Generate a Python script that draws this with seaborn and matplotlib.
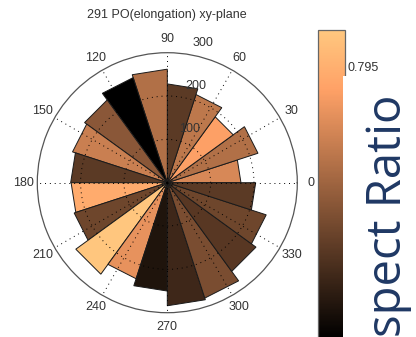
import numpy as np
import matplotlib
matplotlib.use("Agg")
import matplotlib.pyplot as plt
from matplotlib.patches import Rectangle
from matplotlib.colors import Normalize
from matplotlib.cm import ScalarMappable
import seaborn as sns

# Rose histogram: 20 orientation bins of 18 degrees
bin_edges_deg = list(range(0, 361, 18))
counts = [170, 220, 188, 214, 228, 262, 255, 236, 230, 223,
          222, 226, 261, 233, 250, 284, 280, 253, 240, 204]
# mean aspect ratio of the particles in each bin
aspect_ratio = [0.715, 0.667, 0.763, 0.683, 0.560, 0.667, 0.445, 0.620, 0.699, 0.560,
                0.786, 0.584, 0.838, 0.735, 0.485, 0.524, 0.600, 0.556, 0.584, 0.560]
color_limits = (0.445, 0.842)

angle_ticks = list(range(0, 360, 30))
radial_ticks = [100, 200, 300]
cbar_ticks = [0.495, 0.545, 0.595, 0.645, 0.695, 0.745, 0.795]
cbar_tick_labels = ["", "", "", "", "", "", "0.795"]

title = "291 PO(elongation) xy-plane"
side_label = "spect Ratio"

sns.set_style("white")
plt.rcParams["font.family"] = ["Liberation Sans", "DejaVu Sans"]
text_color = "#333333"

cmap = sns.color_palette("copper", as_cmap=True)
norm = Normalize(*color_limits)

W, H = 416, 337
fig = plt.figure(figsize=(W / 100, H / 100), dpi=100)

# polar axes: centre (167.3, 182.7) px, radius 130 px
cx, cy, R = 167.3, 182.7, 130
ax = fig.add_axes([(cx - R) / W, (H - cy - R) / H, 2 * R / W, 2 * R / H],
                  projection="polar")
ax.set_theta_zero_location("E")
ax.set_theta_direction(1)
ax.set_ylim(0, 300)

for i, (r, v) in enumerate(zip(counts, aspect_ratio)):
    t1 = np.deg2rad(bin_edges_deg[i])
    t2 = np.deg2rad(bin_edges_deg[i + 1])
    ax.fill([0, t1, t2, 0], [0, r, r, 0], facecolor=cmap(norm(v)),
            edgecolor="#1a1a1a", linewidth=0.7, zorder=1)

ax.set_axisbelow(False)
ax.set_yticks(radial_ticks[:-1])
ax.set_yticklabels([])
ax.set_xticks(np.deg2rad(angle_ticks))
ax.set_xticklabels([str(a) for a in angle_ticks])
ax.grid(True, color="black", linestyle=(0, (1, 4)), linewidth=0.7)
ax.tick_params(axis="x", pad=3, length=0, labelsize=9, labelcolor=text_color)
ax.spines["polar"].set_edgecolor("#555555")
ax.spines["polar"].set_linewidth(0.9)

for r in radial_ticks:
    ax.annotate(str(r), xy=(np.deg2rad(81.4), r), xytext=(11.5, 7.7),
                textcoords="offset points", ha="center", va="center",
                fontsize=9, color=text_color, annotation_clip=False, zorder=3)

ax.set_title(title, y=1 + (cy - R - 15) / (2 * R), va="center", pad=0,
             fontsize=9, color=text_color)

# colour bar
cax = fig.add_axes([318.3 / W, -1 / H, 26.7 / W, 308 / H])
cb = fig.colorbar(ScalarMappable(norm=norm, cmap=cmap), cax=cax, ticks=cbar_ticks)
cb.ax.set_yticklabels(cbar_tick_labels)
cb.outline.set_edgecolor("#666666")
cb.outline.set_linewidth(0.9)
cax.tick_params(left=True, right=True, direction="in", length=3, width=0.7,
                labelsize=9, pad=1.5, labelcolor=text_color, color="#333333")

# label box on the right
fig.add_artist(Rectangle((343.3 / W, 0), 1, (H - 76) / H, transform=fig.transFigure,
                         facecolor="white", edgecolor="none", zorder=5))
fig.text(388 / W, 0, side_label, rotation=90, ha="center", va="bottom",
         fontsize=34, color="#1f3864", family=["Open Sans", "DejaVu Sans"], zorder=6)

fig.savefig("out.png", dpi=100)
